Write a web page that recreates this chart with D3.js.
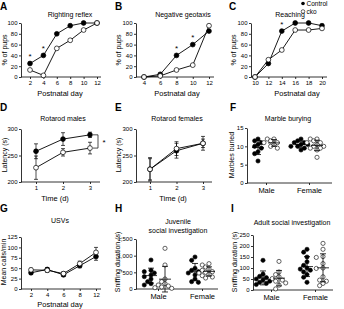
<!DOCTYPE html>
<html lang="en">
<head>
<meta charset="UTF-8">
<title>cko behaviour</title>
<style>
  body{margin:0;background:#fff;}
  svg{display:block;font-family:"Liberation Sans",Arial,sans-serif;}
  .axis path,.axis line{fill:none;stroke:#000;stroke-width:0.8;}
  .axis text{font-size:6px;fill:#000;}
  .title{font-size:7px;text-anchor:middle;fill:#000;}
  .xlab{font-size:7.5px;text-anchor:middle;fill:#000;}
  .ylab{font-size:7px;text-anchor:middle;fill:#000;}
  .letter{font-size:10px;font-weight:bold;}
  .star{font-size:8px;text-anchor:middle;}
</style>
<script src="https://cdn.jsdelivr.net/npm/d3@7"></script>
</head>
<body>
<script>
// ---- data ----
var pctTicks = [0,20,40,60,80,100];

var rightDays = [2,4,6,8,10,12];
var rightCtrl = [25,40,80,95,100,100];
var rightCko  = [13,3,53,68,87,100];
var rightStars = [2,4];

var geoDays = [4,6,8,10,12];
var geoCtrl = [0,5,40,60,85];
var geoCko  = [0,2,13,22,95];
var geoStars = [8,10];

var reachDays = [10,12,14,16,18,20];
var reachCtrl = [0,25,85,100,100,95];
var reachCko  = [0,32,50,87,87,90];
var reachStars = [14];

var rotaDays = [1,2,3];
var latencyTicks = [200,250,300];
var rotaMaleCtrl = [258,281,289], rotaMaleCtrlErr = [14,12,5];
var rotaMaleCko  = [227,256,264], rotaMaleCkoErr  = [22,7,11];
var rotaFemCtrl  = [224,259,273], rotaFemCtrlErr  = [20,14,8];
var rotaFemCko   = [224,263,273], rotaFemCkoErr   = [22,13,13];

var usvDays = ["2","4","6","8","12"];
var usvTicks = [0,25,50,75,100,125];
var usvCtrl = [39,47,34,56,78], usvCtrlErr = [4,4,4,5,9];
var usvCko  = [46,45,37,61,88], usvCkoErr  = [4,5,5,6,12];

var sexes = ["Male","Female"];

var marbleTicks = [0,5,10,15];
var marbleMaleCtrl = [12,11.5,11,10.5,10,9.5,8.5,8,6];
var marbleMaleCko  = [12,12,11.5,11,11,10.5,10,9.5];
var marbleFemCtrl  = [12,11.5,11,11,10.5,10.5,10,10,9.5,9];
var marbleFemCko   = [12,12,11.5,11,11,10.5,10,10,9.5,9.5,9,7];

var juvTicks = [0,500,1000,1500];
var juvMaleCtrl = [870,560,520,480,420,370,300,220,160,120];
var juvMaleCko  = [1220,720,300,220,160,120,90,60,40,20];
var juvFemCtrl  = [960,860,620,560,520,480,420,300,220,200];
var juvFemCko   = [760,720,660,600,560,520,500,480,440,400,360,330];

var adTicks = [0,50,100,150,200,250];
var adMaleCtrl = [135,72,62,56,50,45,40,35,30,25];
var adMaleCko  = [130,82,70,60,52,45,40,32,22,5];
var adFemCtrl  = [185,172,150,128,112,100,95,90,82,70,58,35];
var adFemCko   = [212,185,152,148,120,100,98,60,45,40,30,20];

// ---- canvas ----
var svg = d3.select("body").append("svg").attr("width",344).attr("height",309);

function label(p){
    svg.append("text").attr("class","letter").attr("x",p.letter[1]).attr("y",p.letter[2]).text(p.letter[0]);
    p.title.forEach(function(t){
        svg.append("text").attr("class","title").attr("x",t[1]).attr("y",t[2]).text(t[0]);
    });
    if(p.xlab) svg.append("text").attr("class","xlab").attr("x",p.xlab[1]).attr("y",p.xlab[2]).text(p.xlab[0]);
    svg.append("text").attr("class","ylab")
        .attr("transform","translate("+p.ylab[1]+","+p.ylab[2]+") rotate(-90)")
        .text(p.ylab[0]);
}

function axes(p, xScale, yScale, xTicks){
    svg.append("g").attr("class","axis")
        .attr("transform","translate("+p.ax+",0)")
        .call(d3.axisLeft(yScale).tickValues(p.yTicks).tickSize(2).tickPadding(1.5).tickSizeOuter(0));
    var gx = svg.append("g").attr("class","axis")
        .attr("transform","translate(0,"+p.ay+")")
        .call(d3.axisBottom(xScale).tickValues(xTicks).tickFormat(String).tickSize(2).tickPadding(2).tickSizeOuter(0));
    gx.select(".domain").remove();
    gx.append("line").attr("x1",p.ax).attr("x2",p.axEnd).attr("y1",0).attr("y2",0)
        .attr("stroke","#000").attr("stroke-width",0.8);
    return gx;
}

function linePanel(p){
    label(p);
    var xScale = p.xScale;
    var yScale = d3.scaleLinear().domain(p.yDomain).range(p.yRange);
    var gx = axes(p, xScale, yScale, p.x);
    gx.selectAll("text").style("font-size", p.xTickSize || "6px");
    var line = d3.line().x(function(d){return xScale(d[0]);}).y(function(d){return yScale(d[1]);});
    p.series.forEach(function(s){
        var pts = p.x.map(function(x,i){return [x, s.y[i], s.err ? s.err[i] : 0];});
        svg.append("path").attr("d",line(pts)).attr("fill","none").attr("stroke","#000").attr("stroke-width",0.9);
        if(s.err){
            var eb = svg.append("g").selectAll("g").data(pts).enter().append("g");
            eb.append("line").attr("x1",function(d){return xScale(d[0]);}).attr("x2",function(d){return xScale(d[0]);})
                .attr("y1",function(d){return yScale(d[1]-d[2]);}).attr("y2",function(d){return yScale(d[1]+d[2]);})
                .attr("stroke","#000").attr("stroke-width",0.7);
            [-1,1].forEach(function(sg){
                eb.append("line").attr("x1",function(d){return xScale(d[0])-2;}).attr("x2",function(d){return xScale(d[0])+2;})
                    .attr("y1",function(d){return yScale(d[1]+sg*d[2]);}).attr("y2",function(d){return yScale(d[1]+sg*d[2]);})
                    .attr("stroke","#000").attr("stroke-width",0.7);
            });
        }
    });
    p.series.forEach(function(s){
        var pts = p.x.map(function(x,i){return [x, s.y[i]];});
        svg.append("g").selectAll("circle").data(pts).enter().append("circle")
            .attr("cx",function(d){return xScale(d[0]);})
            .attr("cy",function(d){return yScale(d[1]);})
            .attr("r",2.4)
            .attr("fill",s.open ? "#fff" : "#000")
            .attr("stroke","#000").attr("stroke-width",0.7);
    });
    if(p.stars){
        p.stars.forEach(function(day){
            var v = p.series[0].y[p.x.indexOf(day)];
            svg.append("text").attr("class","star")
                .attr("x",xScale(day)).attr("y",yScale(v) - 4.5).text("*");
        });
    }
    return {x:xScale, y:yScale};
}

// simple deterministic beeswarm offsets
function swarm(vals, yScale, r){
    var placed = [];
    var steps = [0,-1,1,-2,2,-3,3];
    return vals.map(function(v){
        var cy = yScale(v), off = 0;
        for(var k=0;k<steps.length;k++){
            var o = steps[k]*r*1.6;
            var hit = placed.some(function(q){
                var dx = q[0]-o, dy = q[1]-cy;
                return dx*dx+dy*dy < (2*r-0.4)*(2*r-0.4);
            });
            if(!hit){ off = o; break; }
        }
        placed.push([off,cy]);
        return [off,cy];
    });
}

function scatterPanel(p){
    label(p);
    var xScale = d3.scalePoint().domain(sexes).range(p.xRange);
    var yScale = d3.scaleLinear().domain(p.yDomain).range(p.yRange);
    var gx = axes(p, xScale, yScale, sexes);
    gx.selectAll("text").style("font-size","7.5px").attr("dy","0.85em");
    var r = 2.1;
    p.groups.forEach(function(g){
        var cx = xScale(g.sex) + g.side*p.half;
        var mean = d3.mean(g.v), sd = d3.deviation(g.v);
        var pos = swarm(g.v, yScale, r);
        svg.append("g").selectAll("circle").data(pos).enter().append("circle")
            .attr("cx",function(d){return cx+d[0];})
            .attr("cy",function(d){return d[1];})
            .attr("r",r)
            .attr("fill",g.side>0 ? "#fff" : "#000")
            .attr("stroke","#000").attr("stroke-width",0.6);
        var eb = svg.append("g").attr("stroke","#000").attr("stroke-width",0.8);
        eb.append("line").attr("x1",cx-6).attr("x2",cx+6).attr("y1",yScale(mean)).attr("y2",yScale(mean));
        eb.append("line").attr("x1",cx).attr("x2",cx).attr("y1",yScale(mean-sd)).attr("y2",yScale(mean+sd));
        eb.append("line").attr("x1",cx-3).attr("x2",cx+3).attr("y1",yScale(mean-sd)).attr("y2",yScale(mean-sd));
        eb.append("line").attr("x1",cx-3).attr("x2",cx+3).attr("y1",yScale(mean+sd)).attr("y2",yScale(mean+sd));
    });
}

// ---- row 1 ----
linePanel({
    letter:["A",0,10], title:[["Righting reflex",70,17]], xlab:["Postnatal day",60,96], ylab:["% of pups",7,50],
    ax:21, ay:77, axEnd:101, yDomain:[0,100], yRange:[77,23], yTicks:pctTicks,
    x:rightDays, xScale:d3.scaleLinear().domain([2,12]).range([30,97]),
    series:[{y:rightCtrl},{y:rightCko,open:true}], stars:rightStars
});
linePanel({
    letter:["B",115,10], title:[["Negative geotaxis",183,17]], xlab:["Postnatal day",177,96], ylab:["% of pups",121,50],
    ax:136, ay:77, axEnd:214, yDomain:[0,100], yRange:[77,23], yTicks:pctTicks,
    x:geoDays, xScale:d3.scaleLinear().domain([4,12]).range([144,209]),
    series:[{y:geoCtrl},{y:geoCko,open:true}], stars:geoStars
});
linePanel({
    letter:["C",229,10], title:[["Reaching",290,17]], xlab:["Postnatal day",297,96], ylab:["% of pups",236,50],
    ax:251, ay:77, axEnd:327, yDomain:[0,100], yRange:[77,23], yTicks:pctTicks,
    x:reachDays, xScale:d3.scaleLinear().domain([10,20]).range([255,322]),
    series:[{y:reachCtrl},{y:reachCko,open:true}], stars:reachStars
});
// legend
svg.append("circle").attr("cx",303).attr("cy",3.5).attr("r",1.8).attr("fill","#000");
svg.append("text").attr("x",306.5).attr("y",6).style("font-size","6.5px").text("Control");
svg.append("circle").attr("cx",303).attr("cy",11.5).attr("r",1.8).attr("fill","#fff").attr("stroke","#000").attr("stroke-width",0.6);
svg.append("text").attr("x",306.5).attr("y",14).style("font-size","6.5px").text("cko");

// ---- row 2 ----
var d = linePanel({
    letter:["D",0,111], title:[["Rotarod males",63,121]], xlab:["Time (d)",55,201], ylab:["Latency (s)",7,155],
    ax:21, ay:182, axEnd:100, yDomain:[200,300], yRange:[182,129], yTicks:latencyTicks,
    x:rotaDays, xScale:d3.scaleLinear().domain([1,3]).range([36,90]),
    series:[{y:rotaMaleCtrl,err:rotaMaleCtrlErr},{y:rotaMaleCko,err:rotaMaleCkoErr,open:true}]
});
// significance bracket between the day-3 means
var bTop = d.y(rotaMaleCtrl[2]), bBot = d.y(rotaMaleCko[2]);
svg.append("path").attr("d","M93,"+bTop+"H98V"+bBot+"H93").attr("fill","none").attr("stroke","#000").attr("stroke-width",0.7);
svg.append("text").attr("class","star").attr("x",104).attr("y",(bTop+bBot)/2+4).text("*");

linePanel({
    letter:["E",115,111], title:[["Rotarod females",177,121]], xlab:["Time (d)",173,201], ylab:["Latency (s)",121,155],
    ax:136, ay:182, axEnd:212, yDomain:[200,300], yRange:[182,129], yTicks:latencyTicks,
    x:rotaDays, xScale:d3.scaleLinear().domain([1,3]).range([150,203]),
    series:[{y:rotaFemCtrl,err:rotaFemCtrlErr},{y:rotaFemCko,err:rotaFemCkoErr,open:true}]
});
scatterPanel({
    letter:["F",230,111], title:[["Marble burying",288,121]], ylab:["Marbles buried",234,155],
    ax:247, ay:183, axEnd:332, yDomain:[0,15], yRange:[183,128], yTicks:marbleTicks,
    xRange:[266,309], half:8,
    groups:[{sex:"Male",side:-1,v:marbleMaleCtrl},{sex:"Male",side:1,v:marbleMaleCko},
            {sex:"Female",side:-1,v:marbleFemCtrl},{sex:"Female",side:1,v:marbleFemCko}]
});

// ---- row 3 ----
linePanel({
    letter:["G",0,212], title:[["USVs",60,223]], xlab:["Postnatal day",60,307], ylab:["Mean calls/min",6,262],
    ax:21, ay:289, axEnd:101, yDomain:[0,125], yRange:[289,237], yTicks:usvTicks,
    x:usvDays, xScale:d3.scalePoint().domain(usvDays).range([31,96]),
    series:[{y:usvCtrl,err:usvCtrlErr},{y:usvCko,err:usvCkoErr,open:true}]
});
scatterPanel({
    letter:["H",115,212], title:[["Juvenile",178,224],["social investigation",178,233]],
    ylab:["Sniffing duration (s)",120,262],
    ax:136, ay:289, axEnd:218, yDomain:[0,1500], yRange:[289,239], yTicks:juvTicks,
    xRange:[158,202], half:7,
    groups:[{sex:"Male",side:-1,v:juvMaleCtrl},{sex:"Male",side:1,v:juvMaleCko},
            {sex:"Female",side:-1,v:juvFemCtrl},{sex:"Female",side:1,v:juvFemCko}]
});
scatterPanel({
    letter:["I",231,212], title:[["Adult social investigation",292,225]],
    ylab:["Sniffing duration (s)",237,262],
    ax:253, ay:290, axEnd:333, yDomain:[0,250], yRange:[290,235], yTicks:adTicks,
    xRange:[271,315], half:8,
    groups:[{sex:"Male",side:-1,v:adMaleCtrl},{sex:"Male",side:1,v:adMaleCko},
            {sex:"Female",side:-1,v:adFemCtrl},{sex:"Female",side:1,v:adFemCko}]
});
</script>
</body>
</html>
